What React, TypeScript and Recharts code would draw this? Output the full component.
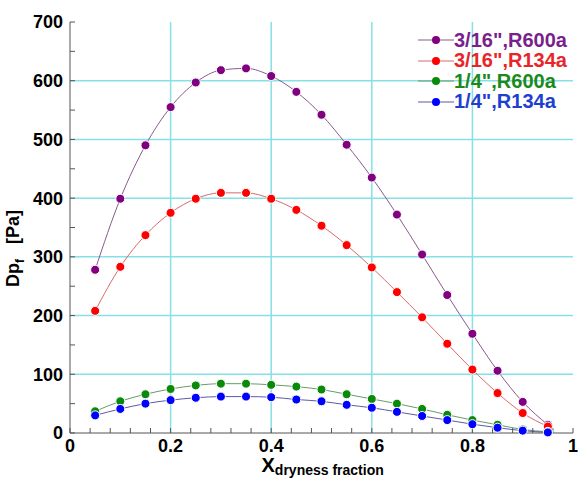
import { CartesianGrid, Legend, Line, LineChart, XAxis, YAxis } from 'recharts'

const dryness = [
  0.05, 0.1, 0.15, 0.2, 0.25, 0.3, 0.35, 0.4, 0.45, 0.5, 0.55, 0.6, 0.65, 0.7,
  0.75, 0.8, 0.85, 0.9, 0.95,
]
const r600a316 = [
  278, 399, 490, 555, 597, 618, 621, 608, 581, 542, 491, 435, 372, 304, 235,
  169, 106, 53, 14,
]
const r134a316 = [
  208, 283, 337, 375, 399, 409, 409, 399, 380, 353, 320, 282, 240, 197, 152,
  108, 68, 34, 11,
]
const r600a14 = [
  37, 54, 66, 75, 81, 84, 84, 82, 79, 74, 66, 58, 50, 41, 31, 22, 14, 6, 2,
]
const r134a14 = [
  30, 41, 50, 56, 60, 62, 62, 61, 57, 54, 48, 43, 36, 29, 22, 15, 9, 4, 1,
]

const xTicks = Array.from({ length: 26 }, (_, i) => +(i * 0.04).toFixed(2))
const xMajor = [0, 0.2, 0.4, 0.6, 0.8, 1]
const yTicks = Array.from({ length: 15 }, (_, i) => i * 50)
const yMajor = [0, 100, 200, 300, 400, 500, 600, 700]

const series = [
  { key: 'r600a316', name: '3/16",R600a', color: '#800080', line: '#8a5a8e', text: '#7a1f8c' },
  { key: 'r134a316', name: '3/16",R134a', color: '#ff0000', line: '#d86a6a', text: '#e8262a' },
  { key: 'r600a14', name: '1/4",R600a', color: '#0a8a0a', line: '#6a9a6a', text: '#1a8a1a' },
  { key: 'r134a14', name: '1/4",R134a', color: '#0000ff', line: '#5a5aa8', text: '#1f3fcf' },
]

const data = dryness.map((x, i) => ({
  x,
  r600a316: r600a316[i],
  r134a316: r134a316[i],
  r600a14: r600a14[i],
  r134a14: r134a14[i],
}))

const font = 'Liberation Sans, Arial, sans-serif'
const fmtX = (v: number) =>
  xMajor.some((m) => Math.abs(m - v) < 1e-6) ? (v === 0 || v === 1 ? String(v) : v.toFixed(1)) : ''
const fmtY = (v: number) => (yMajor.includes(v) ? String(v) : '')

const YLabel = ({ viewBox }: any) => {
  const cx = viewBox.x + 19
  const cy = viewBox.y + viewBox.height / 2 + 21
  return (
    <text
      x={cx}
      y={cy}
      transform={`rotate(-90 ${cx} ${cy})`}
      textAnchor="middle"
      fontFamily={font}
      fontWeight="bold"
      fontSize={18}
      fill="#000"
    >
      <tspan>Dp</tspan>
      <tspan fontSize={12} dy={5}>f</tspan>
      <tspan dy={-5}>{'\u00a0\u00a0\u00a0[Pa]'}</tspan>
    </text>
  )
}

const XLabel = ({ viewBox }: any) => {
  const left = viewBox.x + viewBox.width / 2 - 60
  const y = viewBox.y + 39
  return (
    <text x={left} y={y} fontFamily={font} fontWeight="bold" fill="#000">
      <tspan fontSize={20}>X</tspan>
      <tspan fontSize={14} dy={3}>dryness fraction</tspan>
    </text>
  )
}

const LegendBox = () => (
  <div style={{ fontFamily: font, fontWeight: 'bold', fontSize: 20 }}>
    {series.map((s) => (
      <div key={s.key} style={{ display: 'flex', alignItems: 'center', height: 20.5 }}>
        <svg width={36} height={12}>
          <line x1={0} y1={6} x2={36} y2={6} stroke={s.line} strokeWidth={1} />
          <circle cx={18} cy={6} r={4} fill={s.color} />
        </svg>
        <span style={{ color: s.text, marginLeft: 0, whiteSpace: 'nowrap' }}>{s.name}</span>
      </div>
    ))}
  </div>
)

export default function App() {
  return (
    <div style={{ position: 'absolute', left: 0, top: 0, background: '#fff' }}>
      <LineChart
        width={579}
        height={484}
        data={data}
        margin={{ top: 22, right: 6, left: 0, bottom: 0 }}
      >
        <CartesianGrid
          stroke="#86e0e6"
          strokeWidth={1.5}
          horizontalValues={[100, 200, 300, 400, 500, 600]}
          verticalValues={[0.2, 0.4, 0.6, 0.8]}
        />
        <XAxis
          dataKey="x"
          type="number"
          domain={[0, 1]}
          ticks={xTicks}
          interval={0}
          tickFormatter={fmtX}
          tickSize={-5}
          tickMargin={11}
          height={51}
          stroke="#555"
          tick={{ fill: '#000', fontFamily: font, fontWeight: 'bold', fontSize: 18 }}
          label={{ content: XLabel }}
        />
        <XAxis
          xAxisId="top"
          orientation="top"
          dataKey="x"
          type="number"
          domain={[0, 1]}
          ticks={xTicks}
          interval={0}
          tick={false}
          tickSize={-5}
          height={0}
          stroke="#555"
        />
        <YAxis
          type="number"
          domain={[0, 700]}
          ticks={yTicks}
          interval={0}
          tickFormatter={fmtY}
          tickSize={-5}
          tickMargin={12}
          width={70}
          stroke="#555"
          tick={{ fill: '#000', fontFamily: font, fontWeight: 'bold', fontSize: 18 }}
          label={{ content: YLabel }}
        />
        <YAxis
          yAxisId="right"
          orientation="right"
          type="number"
          domain={[0, 700]}
          ticks={yTicks}
          interval={0}
          tick={false}
          tickSize={-5}
          width={0}
          stroke="#555"
        />
        <Legend
          layout="vertical"
          verticalAlign="middle"
          align="center"
          content={<LegendBox />}
          wrapperStyle={{ top: 30, left: 418, width: 160 }}
        />
        {series.map((s) => (
          <Line
            key={s.key}
            dataKey={s.key}
            name={s.name}
            type="monotone"
            stroke={s.line}
            strokeWidth={1}
            dot={{ r: 4.5, fill: s.color, stroke: '#fff', strokeWidth: 1, fillOpacity: 1 }}
            isAnimationActive={false}
          />
        ))}
      </LineChart>
    </div>
  )
}
